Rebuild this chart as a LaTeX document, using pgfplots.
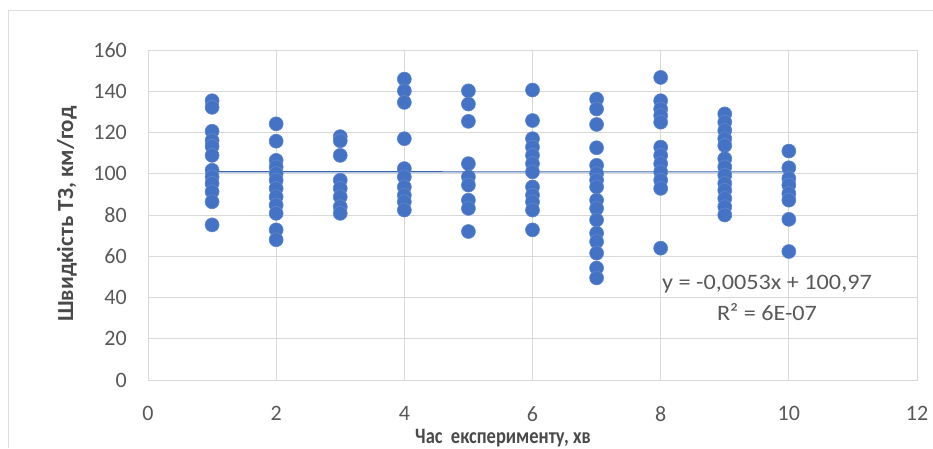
\documentclass[border=0pt]{standalone}
\usepackage{pgfplots}
\pgfplotsset{compat=1.18}
\usepackage{pgfplotstable}
\usepackage{fontspec}
\setmainfont{Carlito}

\definecolor{ptblue}{HTML}{4472C4}
\definecolor{trendblue}{HTML}{3A64B0}
\definecolor{gridgray}{HTML}{D9D9D9}
\definecolor{framegray}{HTML}{DEDEDE}
\definecolor{txtgray}{HTML}{595959}
\definecolor{titlegray}{HTML}{4A4A4A}

% speed of vehicles (km/h) against experiment time (min)
\pgfplotstableread{
x y
1 135.4
1 132.2
1 120.6
1 116.1
1 113.3
1 108.9
1 101.7
1 98.5
1 95.3
1 91.3
1 86.4
1 75.2
2 124.2
2 115.8
2 106.5
2 103.3
2 100.1
2 96.9
2 92.9
2 88.8
2 84.8
2 80.8
2 72.8
2 68.0
3 118.0
3 116.0
3 108.9
3 96.9
3 92.9
3 88.8
3 84.0
3 80.8
4 145.9
4 140.2
4 134.6
4 117.0
4 102.5
4 98.5
4 93.6
4 89.6
4 86.4
4 82.4
5 140.2
5 133.8
5 125.4
5 104.9
5 98.5
5 94.5
5 87.2
5 83.2
5 72.0
6 140.6
6 125.8
6 117.0
6 112.9
6 108.9
6 104.9
6 100.9
6 93.6
6 89.6
6 86.4
6 82.4
6 72.8
7 136.2
7 131.4
7 123.9
7 112.6
7 104.1
7 100.1
7 96.9
7 93.6
7 87.2
7 83.2
7 77.6
7 71.2
7 67.1
7 61.5
7 54.3
7 49.5
8 146.7
8 135.4
8 131.4
8 128.2
8 125.0
8 112.9
8 108.9
8 104.9
8 100.9
8 96.9
8 92.9
8 63.9
9 129.0
9 125.0
9 121.0
9 117.0
9 113.7
9 107.3
9 103.3
9 99.3
9 95.3
9 92.0
9 88.0
9 84.0
9 80.0
10 111.0
10 102.9
10 97.7
10 94.5
10 90.4
10 87.2
10 77.9
10 62.3
}\speeddata

% linear trend y = -0.0053x + 100.97 over the measured range
\pgfplotstableread{
x y
1 100.965
10 100.917
}\trenddata

\begin{document}
\begin{tikzpicture}[x=1pt,y=1pt]
\path[use as bounding box, fill=white] (0,0) rectangle (933,448);
\draw[framegray, line width=1pt] (8,0) -- (8,437) -- (933,437);

\begin{axis}[
  at={(148pt,68pt)}, anchor=south west,
  scale only axis, width=769pt, height=330pt,
  xmin=0, xmax=12, ymin=0, ymax=160,
  xtick={0,2,...,12}, ytick={0,20,...,160},
  grid=major,
  major grid style={gridgray, line width=0.8pt},
  axis line style={gridgray, line width=0.8pt},
  tick style={draw=none},
  /pgf/number format/assume math mode=true,
  ticklabel style={font=\fontsize{22}{26}\selectfont, text=txtgray, inner sep=0pt},
  yticklabel style={xshift=-21pt},
  xticklabel style={yshift=-26pt},
  clip=false,
]
\addplot[only marks, mark=*, mark size=7pt,
  mark options={fill=ptblue, draw=ptblue!85!white, line width=0.6pt}]
  table[x=x, y=y] {\speeddata};
\addplot[trendblue, line width=1.1pt, no marks] table[x=x, y=y] {\trenddata};
\end{axis}

\node[font=\fontsize{22}{26}\selectfont, text=txtgray] at (767,164) {\scalebox{1.1}[1]{y = -0,0053x + 100,97}};
\node[font=\fontsize{22}{26}\selectfont, text=txtgray] at (767,136) {\scalebox{1.1}[1]{R² = 6E-07}};

\node[font=\bfseries\fontsize{23}{27}\selectfont, text=titlegray, rotate=90] at (67,234) {Швидкість ТЗ, км/год};
\node[font=\bfseries\fontsize{22}{26}\selectfont, text=titlegray] at (503,10) {\scalebox{0.84}[1]{Час\ \ експерименту, хв}};
\end{tikzpicture}
\end{document}
